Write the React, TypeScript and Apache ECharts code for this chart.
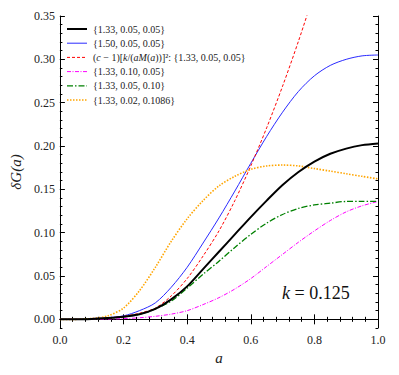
import React, { useEffect, useRef } from "react";
import * as echarts from "echarts";

const aValues = [0, 0.05, 0.1, 0.15, 0.2, 0.25, 0.3, 0.35, 0.4, 0.45, 0.5, 0.55, 0.6, 0.65, 0.7, 0.75, 0.8, 0.85, 0.9, 0.95, 1.0];

const black = [0, 0, 0.0005, 0.0015, 0.003, 0.0058, 0.012, 0.023, 0.038, 0.058, 0.078, 0.098, 0.118, 0.137, 0.155, 0.170, 0.182, 0.191, 0.197, 0.201, 0.203];
const blue = [0, 0, 0.001, 0.002, 0.004, 0.010, 0.019, 0.037, 0.060, 0.088, 0.117, 0.148, 0.180, 0.211, 0.239, 0.263, 0.281, 0.293, 0.300, 0.304, 0.305];
const redA = [0, 0.05, 0.1, 0.15, 0.2, 0.25, 0.3, 0.35, 0.4, 0.45, 0.5, 0.55, 0.6, 0.65, 0.7, 0.75, 0.8];
const red = [0, 0, 0.0005, 0.0015, 0.0035, 0.007, 0.013, 0.027, 0.047, 0.073, 0.102, 0.137, 0.177, 0.221, 0.269, 0.321, 0.377];
const magenta = [0, 0, 0, 0.0003, 0.0008, 0.0018, 0.0035, 0.006, 0.010, 0.017, 0.025, 0.035, 0.047, 0.061, 0.075, 0.089, 0.102, 0.114, 0.124, 0.131, 0.136];
const green = [0, 0, 0.0005, 0.0015, 0.003, 0.0058, 0.012, 0.021, 0.036, 0.052, 0.067, 0.083, 0.098, 0.111, 0.121, 0.128, 0.132, 0.134, 0.136, 0.136, 0.136];
const orange = [0, 0, 0.001, 0.004, 0.013, 0.033, 0.060, 0.090, 0.116, 0.137, 0.154, 0.165, 0.173, 0.177, 0.178, 0.177, 0.174, 0.171, 0.168, 0.165, 0.162];

const seriesNames = [
  "{1.33, 0.05, 0.05}",
  "{1.50, 0.05, 0.05}",
  "(c \u2212 1)[k/(aM(a))]\u00b2: {1.33, 0.05, 0.05}",
  "{1.33, 0.10, 0.05}",
  "{1.33, 0.05, 0.10}",
  "{1.33, 0.02, 0.1086}",
];
const seriesColors = ["#000000", "#2a2aff", "#ff0000", "#ff00ff", "#008000", "#ffa500"];
const seriesWidths = [2, 1, 1, 1, 1.3, 1.6];
const seriesDashes: any[] = [null, null, [3, 2], [4, 1.5, 1, 1.5], [6, 2, 1.5, 2], [1.5, 1.5]];

const yMajorTicks = [0, 0.05, 0.1, 0.15, 0.2, 0.25, 0.3, 0.35];
const yMinorStep = 0.01;

const FONT = "Liberation Serif";

function pairs(xs: number[], ys: number[]) {
  return ys.map((y, i) => [xs[i], y]);
}

export default function App() {
  const ref = useRef<HTMLDivElement>(null);
  useEffect(() => {
    if (!ref.current) return;
    const chart = echarts.init(ref.current, undefined, { renderer: "svg" });
    const yMinor: number[] = [];
    for (let i = -1; i <= 35; i++) yMinor.push(Math.round(i * yMinorStep * 1000) / 1000);

    const baseY = {
      type: "value" as const,
      min: -0.01,
      max: 0.35,
      splitLine: { show: false },
    };
    const axisLineStyle = { show: true, lineStyle: { color: "#000", width: 1 } };
    const seriesData = [
      pairs(aValues, black),
      pairs(aValues, blue),
      pairs(redA, red),
      pairs(aValues, magenta),
      pairs(aValues, green),
      pairs(aValues, orange),
    ];

    const series = seriesNames.map((name, i) => ({
      name,
      type: "line",
      data: seriesData[i],
      symbol: "none",
      smooth: 0.3,
      clip: true,
      xAxisIndex: 0,
      yAxisIndex: 0,
      z: i === 0 ? 10 : 5,
      lineStyle: { color: seriesColors[i], width: seriesWidths[i], type: seriesDashes[i] || "solid" },
      itemStyle: { color: seriesColors[i] },
    }));

    const legendGraphics: any[] = [];
    seriesNames.forEach((name, i) => {
      const y = 29 + i * 14.2;
      legendGraphics.push({
        type: "line",
        shape: { x1: 67, y1: y, x2: 87, y2: y },
        style: {
          stroke: seriesColors[i],
          lineWidth: seriesWidths[i],
          lineDash: seriesDashes[i] || null,
        },
      });
      const isMath = i === 2;
      legendGraphics.push({
        type: "text",
        x: 93,
        y,
        style: {
          text: isMath
            ? "({i|c} \u2212 1)[{i|k}/({i|aM}({i|a}))]\u00b2: {1.33, 0.05, 0.05}"
            : name,
          fill: "#222",
          fontFamily: FONT,
          fontSize: 10,
          verticalAlign: "middle",
          align: "left",
          rich: isMath ? { i: { fontStyle: "italic", fontFamily: FONT, fontSize: 10, fill: "#222" } } : undefined,
        },
      });
    });

    chart.setOption({
      animation: false,
      textStyle: { fontFamily: FONT },
      grid: { left: 58, right: 21, top: 16, bottom: 47 },
      xAxis: [
        {
          type: "value",
          min: 0,
          max: 1,
          interval: 0.2,
          position: "bottom",
          axisLine: axisLineStyle,
          splitLine: { show: false },
          axisTick: { inside: true, length: 5, lineStyle: { color: "#000" } },
          minorTick: { show: true, splitNumber: 5, length: 2.5, lineStyle: { color: "#000" } },
          axisLabel: {
            formatter: (v: number) => v.toFixed(1),
            fontFamily: FONT,
            fontSize: 12,
            color: "#222",
            margin: 6,
          },
          name: "a",
          nameLocation: "middle",
          nameGap: 21,
          nameTextStyle: { fontFamily: FONT, fontSize: 15, fontStyle: "italic", color: "#222" },
        },
        {
          type: "value",
          min: 0,
          max: 1,
          interval: 0.2,
          position: "top",
          axisLine: axisLineStyle,
          splitLine: { show: false },
          axisTick: { inside: true, length: 5, lineStyle: { color: "#000" } },
          minorTick: { show: true, splitNumber: 5, length: 2.5, lineStyle: { color: "#000" } },
          axisLabel: { show: false },
        },
      ],
      yAxis: [
        {
          ...baseY,
          position: "left",
          axisLine: axisLineStyle,
          axisTick: { inside: true, length: 5, customValues: yMajorTicks, lineStyle: { color: "#000" } },
          axisLabel: {
            customValues: yMajorTicks,
            formatter: (v: number) => v.toFixed(2),
            fontFamily: FONT,
            fontSize: 12,
            color: "#222",
            margin: 5,
          },
          name: "\u03b4G(a)",
          nameLocation: "middle",
          nameGap: 36,
          nameTextStyle: { fontFamily: FONT, fontSize: 15, fontStyle: "italic", color: "#222" },
        },
        {
          ...baseY,
          position: "left",
          axisLine: { show: false },
          axisTick: { inside: true, length: 2.5, customValues: yMinor, lineStyle: { color: "#000" } },
          axisLabel: { show: false },
        },
        {
          ...baseY,
          position: "right",
          axisLine: axisLineStyle,
          axisTick: { inside: true, length: 5, customValues: yMajorTicks, lineStyle: { color: "#000" } },
          axisLabel: { show: false },
        },
        {
          ...baseY,
          position: "right",
          axisLine: { show: false },
          axisTick: { inside: true, length: 2.5, customValues: yMinor, lineStyle: { color: "#000" } },
          axisLabel: { show: false },
        },
      ],
      graphic: [
        ...legendGraphics,
        {
          type: "text",
          x: 282,
          y: 293,
          style: {
            text: "{i|k} = 0.125",
            fontFamily: FONT,
            fontSize: 18,
            fill: "#111",
            verticalAlign: "middle",
            rich: { i: { fontStyle: "italic", fontFamily: FONT, fontSize: 18, fill: "#111" } },
          },
        },
      ],
      series,
    });
    return () => chart.dispose();
  }, []);
  return <div ref={ref} style={{ width: 399, height: 375, margin: -8 }} />;
}
